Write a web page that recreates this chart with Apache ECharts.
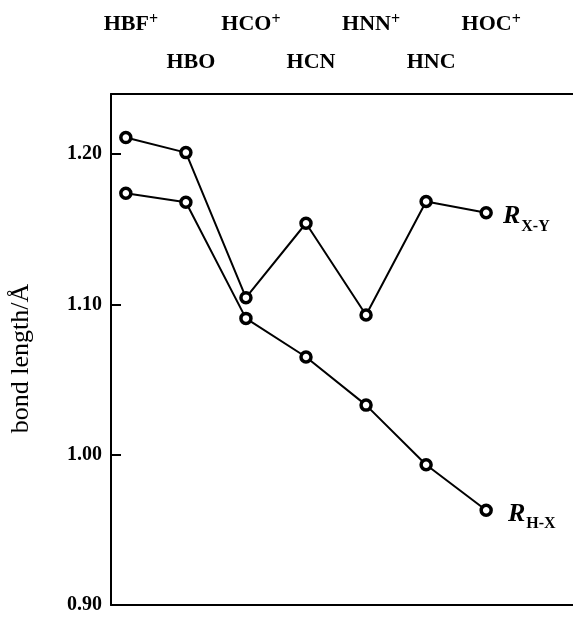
<!DOCTYPE html>
<html>
<head>
<meta charset="utf-8">
<script src="https://cdn.jsdelivr.net/npm/echarts@6/dist/echarts.min.js"></script>
<style>html,body{margin:0;padding:0;background:#fff;}#c{width:573px;height:620px;}</style>
</head>
<body>
<div id="c"></div>
<script>
const compounds = ['HBF+', 'HBO', 'HCO+', 'HCN', 'HNN+', 'HNC', 'HOC+'];
const rXY = [1.211, 1.201, 1.1045, 1.154, 1.093, 1.1685, 1.161];
const rHX = [1.174, 1.168, 1.0907, 1.065, 1.033, 0.9933, 0.963];
const yTicks = [0.90, 1.00, 1.10, 1.20];
const seriesNames = [['R', 'X-Y'], ['R', 'H-X']];

const serif = '"Liberation Serif", "DejaVu Serif", serif';
const chart = echarts.init(document.getElementById('c'), null, {renderer: 'canvas'});

function compoundLabel(v) {
  const i = Math.round(v);
  const name = compounds[i] || '';
  const hasPlus = name.endsWith('+');
  const base = hasPlus ? name.slice(0, -1) : name;
  let txt = '{b|' + base + '}' + (hasPlus ? '{p|+}' : '');
  if (i % 2 === 0) txt += '\n{g| }';
  return txt;
}

function makeSeries(vals, label, idx) {
  return {
    type: 'line',
    data: vals.map((v, i) => [i, v]),
    symbol: 'circle',
    symbolSize: 10,
    showAllSymbol: true,
    lineStyle: {color: '#000', width: 2},
    itemStyle: {color: '#fff', borderColor: '#000', borderWidth: 3.5},
    label: {
      show: true,
      position: 'right',
      distance: idx === 0 ? 10 : 15,
      offset: [0, 4],
      formatter: p => p.dataIndex === vals.length - 1 ? '{r|' + label[0] + '}{s|' + label[1] + '}' : '',
      rich: {
        r: {fontFamily: serif, fontStyle: 'italic', fontWeight: 'bold', fontSize: 26, color: '#000', lineHeight: 36},
        s: {fontFamily: serif, fontWeight: 'bold', fontSize: 16, color: '#000', verticalAlign: 'bottom', lineHeight: 16, padding: [0, 0, 0, 1]}
      }
    },
    z: 3
  };
}

chart.setOption({
  animation: false,
  backgroundColor: '#fff',
  grid: {left: 106, right: 0, top: 94, bottom: 15, containLabel: false},
  xAxis: [{
    type: 'value',
    position: 'top',
    min: -0.247,
    max: 7.446,
    axisLine: {show: true, onZero: false, lineStyle: {color: '#000', width: 2}},
    axisTick: {show: false},
    splitLine: {show: false},
    axisLabel: {
      show: true,
      customValues: compounds.map((c, i) => i),
      margin: 20,
      padding: [0, 0, 0, 10],
      formatter: compoundLabel,
      rich: {
        b: {fontFamily: serif, fontWeight: 'bold', fontSize: 22, color: '#000', lineHeight: 24},
        p: {fontFamily: serif, fontWeight: 'bold', fontSize: 16, color: '#000', verticalAlign: 'top', lineHeight: 24},
        g: {fontSize: 10, lineHeight: 38}
      }
    }
  }, {
    type: 'value',
    position: 'bottom',
    min: -0.247,
    max: 7.446,
    axisLine: {show: true, onZero: false, lineStyle: {color: '#000', width: 2}},
    axisTick: {show: false},
    axisLabel: {show: false},
    splitLine: {show: false}
  }],
  yAxis: {
    type: 'value',
    min: 0.9,
    max: 1.24,
    interval: 0.1,
    name: 'bond length/Å',
    nameLocation: 'middle',
    nameGap: 77,
    nameTextStyle: {fontFamily: serif, fontSize: 26, color: '#000', padding: [0, 18, 0, 0]},
    axisLine: {show: true, onZero: false, lineStyle: {color: '#000', width: 2}},
    axisTick: {show: true, inside: true, length: 10, lineStyle: {color: '#000', width: 2}},
    splitLine: {show: false},
    axisLabel: {
      customValues: yTicks,
      margin: 9,
      fontFamily: serif,
      fontWeight: 'bold',
      fontSize: 20,
      color: '#000',
      formatter: v => v.toFixed(2)
    }
  },
  series: [makeSeries(rXY, seriesNames[0], 0), makeSeries(rHX, seriesNames[1], 1)]
});
</script>
</body>
</html>
